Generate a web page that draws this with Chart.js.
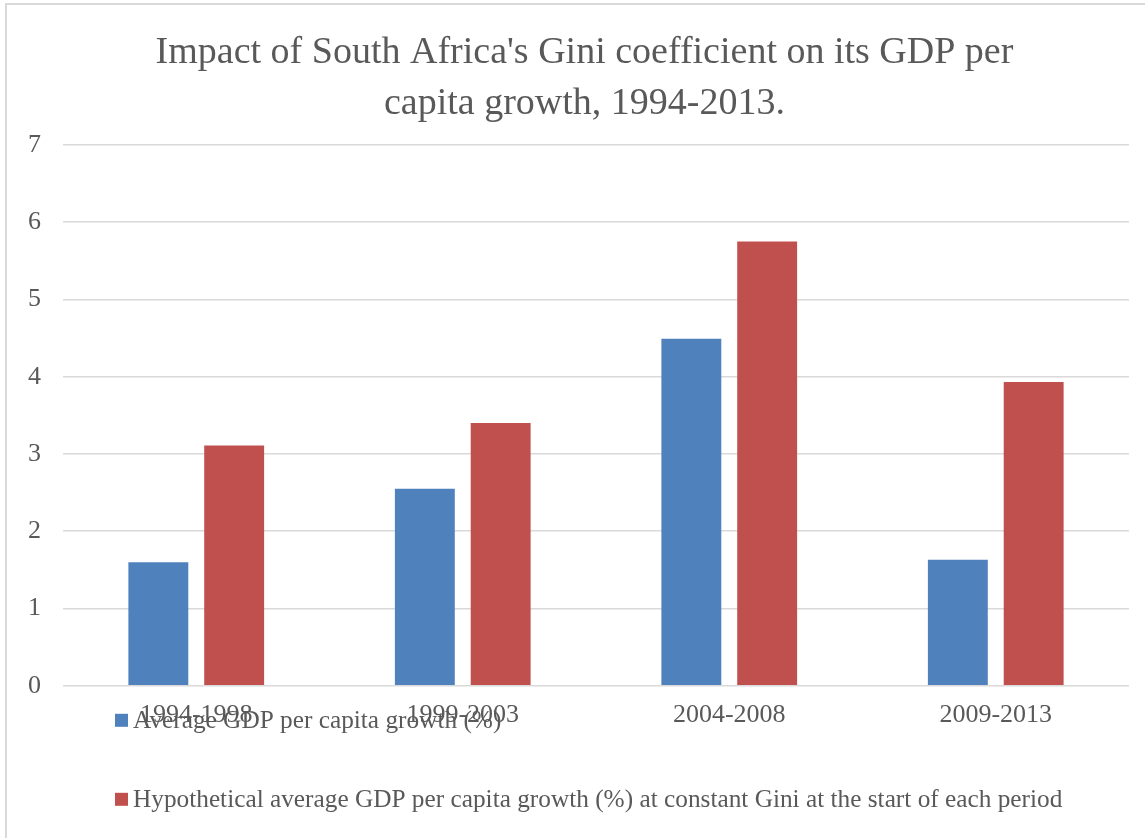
<!DOCTYPE html>
<html>
<head>
<meta charset="utf-8">
<script src="https://cdn.jsdelivr.net/npm/chart.js@4/dist/chart.umd.min.js"></script>
<style>
    html, body { margin: 0; padding: 0; background: #fff; overflow: hidden; }
    #wrap { width: 1145px; height: 838px; position: relative; }
</style>
</head>
<body>
<div id="wrap"><canvas id="grafico"></canvas></div>
<script>

const periodos = ["1994-1998", "1999-2003", "2004-2008", "2009-2013"];

const crescimentoMedio = [1.60, 2.55, 4.49, 1.63];

const crescimentoHipotetico = [3.11, 3.40, 5.75, 3.93];

const nomesSeries = [
    "Average GDP per capita growth (%)",
    "Hypothetical average GDP per capita growth (%) at constant Gini at the start of each period"
];

const tituloLinhas = [
    "Impact of South Africa's Gini coefficient on its GDP per",
    "capita growth, 1994-2013."
];

const fonte = "'Liberation Serif', 'Times New Roman', serif";
const corTexto = "#595959";

// moldura cinza em volta do grafico
const moldura = {
    id: "moldura",
    beforeDraw(chart) {
        const ctx = chart.ctx;
        ctx.save();
        ctx.strokeStyle = "#d9d9d9";
        ctx.lineWidth = 2;
        ctx.strokeRect(6, 4, 3000, 3000);
        ctx.restore();
    }
};

// titulo um pouco deslocado para a direita, como no original
const ajusteTitulo = {
    id: "ajusteTitulo",
    afterLayout(chart) {
        const t = chart.titleBlock;
        if (!t) return;
        t.left = 40;
        t.right = 1129;
        t.width = t.right - t.left;
    }
};

// legenda vertical desenhada por cima dos rotulos do eixo x
const legendaManual = {
    id: "legendaManual",
    afterDraw(chart) {
        const ctx = chart.ctx;
        const base = chart.chartArea.bottom;
        const offsets = [34.5, 113.5];
        ctx.save();
        ctx.font = "25.3px " + fonte;
        ctx.textBaseline = "middle";
        ctx.textAlign = "left";
        chart.data.datasets.forEach((ds, i) => {
            const y = base + offsets[i];
            ctx.fillStyle = ds.backgroundColor;
            ctx.fillRect(115, y - 6.5, 13, 13);
            ctx.fillStyle = corTexto;
            ctx.fillText(ds.label, 133, y + 1);
        });
        ctx.restore();
    }
};

const ctx = document.getElementById("grafico").getContext("2d");

new Chart(ctx, {

    type: "bar",

    data: {
        labels: periodos,
        datasets: [
            {
                label: nomesSeries[0],
                data: crescimentoMedio,
                backgroundColor: "#4f81bd",
                categoryPercentage: 0.569,
                barPercentage: 0.79
            },
            {
                label: nomesSeries[1],
                data: crescimentoHipotetico,
                backgroundColor: "#c0504d",
                categoryPercentage: 0.569,
                barPercentage: 0.79
            }
        ]
    },

    options: {
        responsive: true,
        maintainAspectRatio: false,
        animation: false,
        layout: {
            padding: { left: 6, right: 16, top: 0, bottom: 94 }
        },
        scales: {
            x: {
                grid: { display: false, drawTicks: false },
                border: { display: false },
                ticks: {
                    color: corTexto,
                    font: { family: fonte, size: 26 },
                    padding: 13.5,
                    maxRotation: 0
                }
            },
            y: {
                min: 0,
                max: 7,
                grid: {
                    color: "#d9d9d9",
                    lineWidth: 1.5,
                    drawTicks: false
                },
                border: { display: false },
                ticks: {
                    stepSize: 1,
                    color: corTexto,
                    font: { family: fonte, size: 26 },
                    padding: 22
                }
            }
        },
        plugins: {
            legend: { display: false },
            tooltip: { enabled: false },
            title: {
                display: true,
                text: tituloLinhas,
                color: corTexto,
                font: { family: fonte, size: 38, weight: "normal", lineHeight: 1.34 },
                padding: { top: 28, bottom: 15 }
            }
        }
    },

    plugins: [moldura, ajusteTitulo, legendaManual]
});
</script>
</body>
</html>
